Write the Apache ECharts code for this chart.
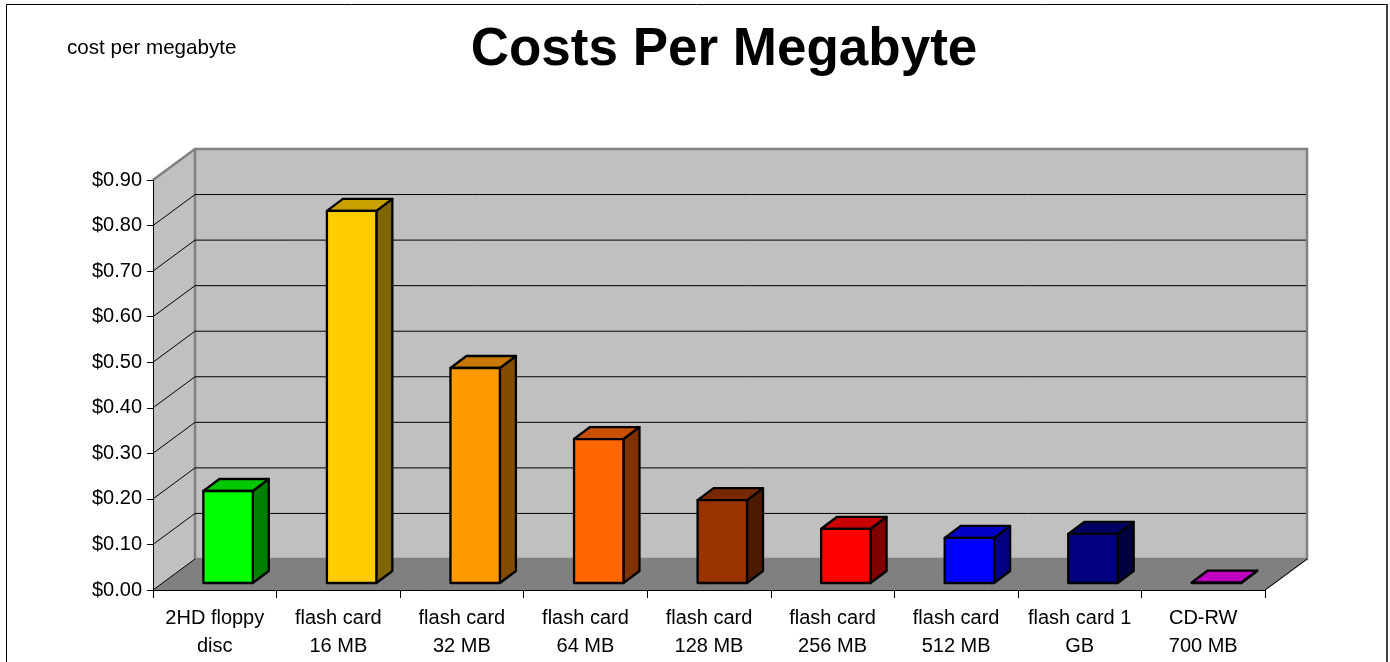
<!DOCTYPE html>
<html>
<head>
<meta charset="utf-8">
<script src="https://cdn.jsdelivr.net/npm/echarts@6/dist/echarts.min.js"></script>
<style>
html,body{margin:0;padding:0;background:#fff;}
#chart{width:1390px;height:662px;}
</style>
</head>
<body>
<div id="chart"></div>
<script>
// ---- data ----
const categories = ['2HD floppy\ndisc','flash card\n16 MB','flash card\n32 MB','flash card\n64 MB','flash card\n128 MB','flash card\n256 MB','flash card\n512 MB','flash card 1\nGB','CD-RW\n700 MB'];
const costs = [0.202, 0.817, 0.472, 0.316, 0.182, 0.119, 0.099, 0.108, 0.001];
const yTicks = [0, 0.1, 0.2, 0.3, 0.4, 0.5, 0.6, 0.7, 0.8, 0.9];
const titleText = 'Costs Per Megabyte';
const subtitleText = 'cost per megabyte';

// ---- styles ----
const frontColors = ['#00FF00','#FFCC00','#FF9900','#FF6600','#993300','#FF0000','#0000FF','#000080','#CC00CC'];
const topColors   = ['#00C800','#C8A000','#C87800','#C85000','#782800','#C80000','#0000C8','#000064','#C000C0'];
const sideColors  = ['#008000','#806600','#804C00','#803300','#4C1A00','#800000','#000080','#000040','#660066'];
const FONT = "'Liberation Sans', Arial, sans-serif";
const WALL_DX = 42, WALL_DY = -31;     // depth of the 3D box
const BAR_FX = 13.3, BAR_FY = -7;      // bar front face offset inside depth
const BAR_DX = 16, BAR_DY = -12;       // bar depth
const BAR_W = 0.40;                    // bar width as fraction of band

const chart = echarts.init(document.getElementById('chart'));

function wallsRender(params, api) {
  const cs = params.coordSys;
  const x0 = cs.x, y0 = cs.y, W = cs.width, H = cs.height;
  const yb = y0 + H;
  return {
    type: 'group',
    children: [
      { type: 'polygon', shape: { points: [[x0, yb], [x0, y0], [x0 + WALL_DX, y0 + WALL_DY], [x0 + WALL_DX, yb + WALL_DY]] },
        style: { fill: '#C0C0C0', stroke: null } },
      { type: 'rect', shape: { x: x0 + WALL_DX, y: y0 + WALL_DY, width: W, height: H },
        style: { fill: '#C0C0C0', stroke: '#808080', lineWidth: 2.5 } },
      { type: 'line', shape: { x1: x0, y1: y0, x2: x0 + WALL_DX, y2: y0 + WALL_DY },
        style: { stroke: '#808080', lineWidth: 2.5 } },
      { type: 'polygon', shape: { points: [[x0, yb], [x0 + WALL_DX, yb + WALL_DY], [x0 + W + WALL_DX + 1.25, yb + WALL_DY], [x0 + W + 1.25, yb]] },
        style: { fill: '#808080', stroke: null } },
      { type: 'line', shape: { x1: x0 + W, y1: yb, x2: x0 + W + WALL_DX, y2: yb + WALL_DY },
        style: { stroke: '#000', lineWidth: 1 } }
    ]
  };
}

function gridRender(params, api) {
  const cs = params.coordSys;
  const v = api.value(0);
  const y = api.coord([0, v])[1];
  const x0 = cs.x, W = cs.width;
  const children = [];
  if (v < yTicks[yTicks.length - 1]) {
    children.push({ type: 'line', shape: { x1: x0, y1: y, x2: x0 + WALL_DX, y2: y + WALL_DY }, style: { stroke: '#000', lineWidth: 1 } });
    if (v > 0) {
      children.push({ type: 'line', shape: { x1: x0 + WALL_DX, y1: y + WALL_DY, x2: x0 + W + WALL_DX - 1, y2: y + WALL_DY }, style: { stroke: '#000', lineWidth: 1 } });
    }
  }
  return { type: 'group', children };
}

function barRender(params, api) {
  const i = api.value(0), v = api.value(1);
  const base = api.coord([i, 0]);
  const top = api.coord([i, v]);
  const band = api.size([1, 0])[0];
  const w = band * BAR_W;
  const x1 = base[0] + BAR_FX - w / 2, x2 = x1 + w;
  const yb = base[1] + BAR_FY, yt = top[1] + BAR_FY;
  const st = { stroke: '#000', lineWidth: 2.3, lineJoin: 'round' };
  const idx = params.dataIndex;
  return {
    type: 'group',
    children: [
      { type: 'polygon', shape: { points: [[x2, yt], [x2, yb], [x2 + BAR_DX, yb + BAR_DY], [x2 + BAR_DX, yt + BAR_DY]] },
        style: Object.assign({ fill: sideColors[idx] }, st) },
      { type: 'polygon', shape: { points: [[x1, yt], [x2, yt], [x2 + BAR_DX, yt + BAR_DY], [x1 + BAR_DX, yt + BAR_DY]] },
        style: Object.assign({ fill: topColors[idx] }, st) },
      { type: 'rect', shape: { x: x1, y: yt, width: w, height: Math.max(yb - yt, 0.5) },
        style: Object.assign({ fill: frontColors[idx] }, st) }
    ]
  };
}

const option = {
  backgroundColor: '#fff',
  animation: false,
  grid: { left: 153, right: 125, top: 180, bottom: 72, containLabel: false },
  xAxis: {
    type: 'category',
    data: categories,
    z: 10,
    axisLine: { show: true, lineStyle: { color: '#000', width: 1 } },
    axisTick: { show: true, length: 8, lineStyle: { color: '#000' } },
    axisLabel: { interval: 0, color: '#000', fontSize: 20, lineHeight: 28, fontFamily: FONT, margin: 14 },
    splitLine: { show: false }
  },
  yAxis: {
    type: 'value',
    min: 0, max: 0.9, interval: 0.1,
    z: 10,
    axisLine: { show: true, lineStyle: { color: '#000', width: 1 } },
    axisTick: { show: true, length: 6, lineStyle: { color: '#000' } },
    axisLabel: { color: '#000', fontSize: 20, fontFamily: FONT, margin: 11, formatter: v => '$' + v.toFixed(2) },
    splitLine: { show: false }
  },
  graphic: [
    { type: 'text', left: 67, top: 38, style: { text: subtitleText, fill: '#000', font: '20.6px ' + FONT } },
    { type: 'text', x: 724, y: 50, style: { text: titleText, fill: '#000', font: 'bold 53px ' + FONT, textAlign: 'center', textVerticalAlign: 'middle' } },
    { type: 'line', shape: { x1: 6, y1: 4.5, x2: 1387, y2: 4.5 }, style: { stroke: '#000', lineWidth: 1 } },
    { type: 'line', shape: { x1: 6.5, y1: 4, x2: 6.5, y2: 662 }, style: { stroke: '#000', lineWidth: 1 } },
    { type: 'line', shape: { x1: 1387, y1: 4, x2: 1387, y2: 662 }, style: { stroke: '#404040', lineWidth: 2 } }
  ],
  series: [
    { type: 'custom', name: 'walls', coordinateSystem: 'cartesian2d', data: [[0, 0]], renderItem: wallsRender, silent: true, z: 1 },
    { type: 'custom', name: 'grid', coordinateSystem: 'cartesian2d', data: yTicks.map(v => [v]), encode: { y: 0 }, renderItem: gridRender, silent: true, z: 2 },
    { type: 'custom', name: 'Cost per MB', coordinateSystem: 'cartesian2d', data: costs.map((v, i) => [i, v]), encode: { x: 0, y: 1 }, renderItem: barRender, z: 3 }
  ]
};
chart.setOption(option);
</script>
</body>
</html>
